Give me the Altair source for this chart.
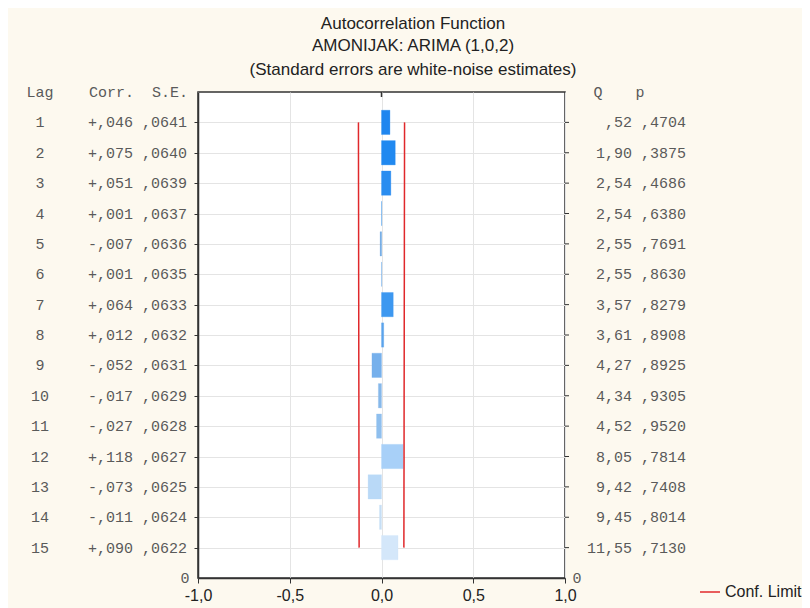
import altair as alt
import pandas as pd

lags = list(range(1, 16))
corr = [0.046, 0.075, 0.051, 0.001, -0.007, 0.001, 0.064, 0.012, -0.052, -0.017, -0.027, 0.118, -0.073, -0.011, 0.090]
se = [0.0641, 0.0640, 0.0639, 0.0637, 0.0636, 0.0635, 0.0633, 0.0632, 0.0631, 0.0629, 0.0628, 0.0627, 0.0625, 0.0624, 0.0622]
q = [0.52, 1.90, 2.54, 2.54, 2.55, 2.55, 3.57, 3.61, 4.27, 4.34, 4.52, 8.05, 9.42, 9.45, 11.55]
p = [0.4704, 0.3875, 0.4686, 0.6380, 0.7691, 0.8630, 0.8279, 0.8908, 0.8925, 0.9305, 0.9520, 0.7814, 0.7408, 0.8014, 0.7130]
bar_colors = ["#1f86ef", "#2189f0", "#2a8df0", "#3a93ec", "#5d9fe0", "#5fa3e6", "#3d98f0",
              "#5aa3ec", "#76b0ec", "#86b8ea", "#8fbfee", "#a8d0f8", "#b9d9f7", "#c6def5", "#d4e7fa"]
x_ticks = [-1.0, -0.5, 0.0, 0.5, 1.0]
title_lines = ["Autocorrelation Function", "AMONIJAK: ARIMA (1,0,2)", "(Standard errors are white-noise estimates)"]


def fmt_small(v, digits, sign=False):
    s = f"{abs(v):.{digits}f}".replace(".", ",")
    if s.startswith("0,"):
        s = s[1:]
    if sign:
        s = ("+" if v >= 0 else "-") + s
    return s


df = pd.DataFrame({
    "lag": lags, "corr": corr, "se": se, "q": q, "p": p, "col": bar_colors,
    "left_txt": [fmt_small(c, 3, True) + " " + fmt_small(s, 4) for c, s in zip(corr, se)],
    "right_txt": [fmt_small(a, 2) + " " + fmt_small(b, 4) for a, b in zip(q, p)],
    "lag_txt": [str(l) for l in lags],
})

W, H = 367, 486
mono = "Liberation Mono"
sans = "Liberation Sans"
txtcol = "#5a5a5a"

yscale = alt.Scale(domain=[0, 16], reverse=True, nice=False, zero=False)
xscale = alt.Scale(domain=[-1, 1], nice=False)
yaxis = alt.Axis(values=lags, labels=False, title=None, tickColor="#333", tickSize=4,
                 domainColor="#333", domainWidth=1.5, gridColor="#e4e4e4")
xaxis = alt.Axis(values=x_ticks, title=None,
                 labelExpr="replace(replace(format(datum.value, '.1f'), '.', ','), '\u2212', '-')",
                 labelFont=sans, labelFontSize=16, labelColor="#222",
                 labelFlush=False, labelPadding=4,
                 tickColor="#333", tickSize=5, domainColor="#333", domainWidth=1.5,
                 gridColor="#e4e4e4")

base = alt.Chart(df)

bars = base.transform_calculate(
    y0="datum.lag - 0.4", y1="datum.lag + 0.4", zero="0"
).mark_rect(strokeWidth=0.6, strokeOpacity=0.5).encode(
    x=alt.X("zero:Q", scale=xscale, axis=xaxis),
    x2="corr:Q",
    y=alt.Y("y0:Q", scale=yscale, axis=yaxis),
    y2="y1:Q",
    fill=alt.Color("col:N", scale=None),
    stroke=alt.Color("col:N", scale=None),
)

conf = base.transform_calculate(
    lo="-1.96 * datum.se", hi="1.96 * datum.se"
).transform_fold(["lo", "hi"], as_=["side", "lim"]).mark_line(
    color="#e0282b", strokeWidth=1.5
).encode(
    x=alt.X("lim:Q", scale=xscale, axis=xaxis),
    y=alt.Y("lag:Q", scale=yscale, axis=yaxis),
    detail="side:N",
)

right_ticks = base.mark_rule(color="#333", strokeWidth=1).encode(
    x=alt.value(W), x2=alt.value(W + 4), y=alt.Y("lag:Q", scale=yscale, axis=yaxis))
top_tick = alt.Chart(pd.DataFrame({"z": [0.0]})).mark_rule(color="#333", strokeWidth=1.5).encode(
    x=alt.X("z:Q", scale=xscale, axis=xaxis), y=alt.value(0), y2=alt.value(5))

lag_text = base.mark_text(font=mono, fontSize=15, color=txtcol, align="center", baseline="middle").encode(
    x=alt.value(-158), y=alt.Y("lag:Q", scale=yscale, axis=yaxis), text="lag_txt:N")
left_text = base.mark_text(font=mono, fontSize=15, color=txtcol, align="right", baseline="middle").encode(
    x=alt.value(-11), y=alt.Y("lag:Q", scale=yscale, axis=yaxis), text="left_txt:N")
right_text = base.mark_text(font=mono, fontSize=15, color=txtcol, align="right", baseline="middle").encode(
    x=alt.value(488), y=alt.Y("lag:Q", scale=yscale, axis=yaxis), text="right_txt:N")

hdr = pd.DataFrame({
    "t": ["Lag", "Corr.\u00a0\u00a0S.E.", "Q", "p", "0", "0"],
    "xpx": [-158, -10, 400, 442, -13, 379],
    "lagpos": [0, 0, 0, 0, 16, 16],
    "al": ["center", "right", "center", "center", "center", "center"],
})
hdr_layers = []
for al in ["center", "right"]:
    hdr_layers.append(
        alt.Chart(hdr[hdr.al == al]).mark_text(font=mono, fontSize=15, color=txtcol, align=al, baseline="middle").encode(
            x=alt.X("xpx:Q", scale=None), y=alt.Y("lagpos:Q", scale=yscale, axis=yaxis), text="t:N")
    )

tdf = pd.DataFrame({"t": title_lines, "ypx": [-68, -46, -22]})
titles = alt.Chart(tdf).mark_text(font=sans, fontSize=17, color="#222", align="center", baseline="middle").encode(
    x=alt.value(215), y=alt.Y("ypx:Q", scale=None), text="t:N")

legend_rule = alt.Chart(pd.DataFrame({"a": [0]})).mark_rule(color="#e0282b", strokeWidth=1.5).encode(
    x=alt.value(502), x2=alt.value(522), y=alt.value(500))
legend_text = alt.Chart(pd.DataFrame({"t": ["Conf. Limit"]})).mark_text(
    font=sans, fontSize=16, color="#222", align="left", baseline="middle").encode(
    x=alt.value(527), y=alt.value(500), text="t:N")

chart = alt.layer(
    bars, conf, right_ticks, top_tick, lag_text, left_text, right_text, *hdr_layers, titles, legend_rule, legend_text
).properties(
    width=W, height=H,
    autosize=alt.AutoSizeParams(type="none"),
    padding={"left": 190, "top": 84, "right": 237, "bottom": 30},
).configure(background="#fdf9ef").configure_view(fill="white", stroke="#333", strokeWidth=1.5)

chart.save("out.html", embed_options={"renderer": "svg", "actions": False})
